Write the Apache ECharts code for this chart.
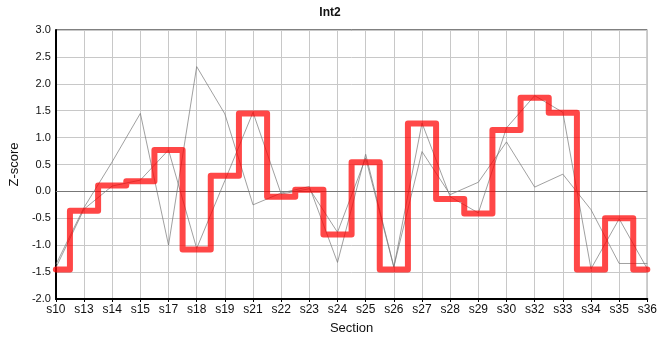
<!DOCTYPE html>
<html>
<head>
<meta charset="utf-8">
<title>Int2</title>
<script src="https://cdn.jsdelivr.net/npm/echarts@6/dist/echarts.min.js"></script>
<style>
  html, body { margin: 0; padding: 0; background: #fff; }
  #chart { width: 660px; height: 360px; }
</style>
</head>
<body>
<div id="chart"></div>
<script>
// sections along the x axis
const sections = ['s10', 's13', 's14', 's15', 's17', 's18', 's19', 's21', 's22', 's23', 's24',
  's25', 's26', 's27', 's28', 's29', 's30', 's32', 's33', 's34', 's35', 's36']

// thick red step line
const stepValues = [-1.45, -0.36, 0.11, 0.19, 0.77, -1.08, 0.29, 1.45, -0.10, 0.03, -0.80,
  0.54, -1.45, 1.26, -0.14, -0.41, 1.14, 1.74, 1.46, -1.45, -0.50, -1.45]

// thin gray lines
const grayA = [-1.42, -0.33, 0.10, 0.21, 0.77, -1.06, 0.20, 1.47, -0.05, 0.05, -0.76,
  0.62, -1.41, 1.27, -0.10, -0.40, 1.18, 1.78, 1.47, -1.44, -0.51, -1.44]
const grayB = [-1.36, -0.30, 0.55, 1.45, -1.00, 2.32, 1.44, -0.25, -0.03, 0.09, -1.32,
  0.69, -1.40, 0.74, -0.06, 0.17, 0.92, 0.08, 0.32, -0.34, -1.34, -1.34]

const fontFamily = '"Liberation Sans", Arial, sans-serif'

const chart = echarts.init(document.getElementById('chart'))

function grayLine(data) {
  return {
    type: 'line',
    data: data,
    symbol: 'none',
    silent: true,
    lineStyle: { width: 1, color: 'rgba(120,120,120,0.7)' },
    z: 2,
  }
}

chart.setOption({
  animation: false,
  backgroundColor: '#fff',
  title: {
    text: 'Int2',
    left: 'center',
    top: 2,
    textStyle: { fontFamily, fontSize: 12, fontWeight: 'bold', color: '#111' },
  },
  grid: {
    left: 50,
    right: 10,
    top: 30,
    bottom: 61,
    show: true,
    borderColor: '#000',
    borderWidth: 1,
    backgroundColor: 'transparent',
  },
  xAxis: {
    type: 'category',
    data: sections,
    boundaryGap: false,
    name: 'Section',
    nameLocation: 'middle',
    nameGap: 23,
    nameTextStyle: { fontFamily, fontSize: 13, color: '#111' },
    axisLine: { onZero: false, lineStyle: { color: '#000', width: 2 } },
    axisTick: { show: true, length: 3, lineStyle: { color: '#000' } },
    axisLabel: { fontFamily, fontSize: 12, color: '#111', margin: 5, interval: 0 },
    splitLine: { show: true, lineStyle: { color: '#c8c8c8', width: 1 } },
  },
  yAxis: {
    type: 'value',
    min: -2,
    max: 3,
    interval: 0.5,
    name: 'Z-score',
    nameLocation: 'middle',
    nameGap: 33,
    nameTextStyle: { fontFamily, fontSize: 13, color: '#111' },
    axisLine: { show: true, lineStyle: { color: '#000', width: 2 } },
    axisTick: { show: false },
    axisLabel: {
      fontFamily,
      fontSize: 11,
      color: '#111',
      margin: 5,
      formatter: (v) => v.toFixed(1),
    },
    splitLine: { show: true, lineStyle: { color: '#c8c8c8', width: 1 } },
  },
  series: [
    grayLine(grayA),
    grayLine(grayB),
    {
      type: 'line',
      data: stepValues,
      step: 'middle',
      symbol: 'none',
      silent: true,
      lineStyle: { width: 6, color: 'rgba(255,0,0,0.72)', join: 'round', cap: 'round' },
      z: 3,
      markLine: {
        silent: true,
        symbol: 'none',
        label: { show: false },
        lineStyle: { color: '#777', width: 1, type: 'solid' },
        data: [{ yAxis: 0 }],
        z: 1,
      },
    },
  ],
})
</script>
</body>
</html>
